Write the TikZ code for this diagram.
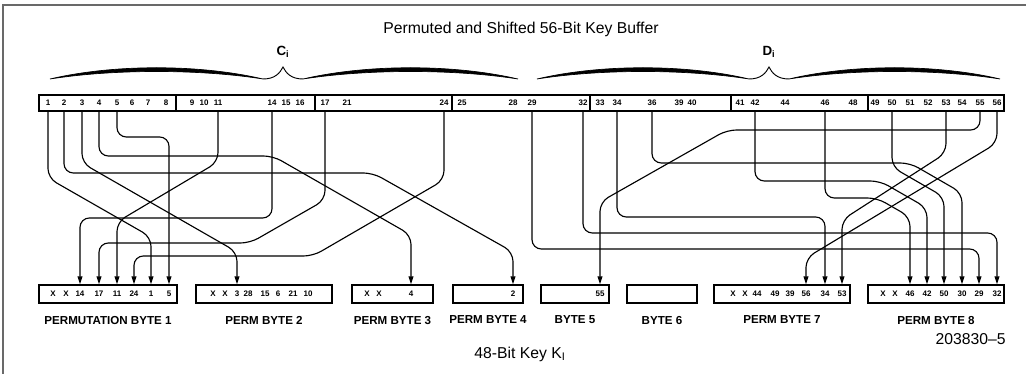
\documentclass[tikz,border=0pt]{standalone}
\usepackage{fontspec}
\setmainfont{Liberation Sans}
\usetikzlibrary{arrows.meta,positioning,fit}
\definecolor{framegray}{RGB}{105,105,105}
\tikzset{
  keybox/.style={draw,line width=1pt,inner sep=0pt},
  bitnum/.style={font=\bfseries\fontsize{6}{7}\selectfont,inner sep=0pt},
  bytelabel/.style={font=\bfseries\fontsize{8.7}{10}\selectfont,inner sep=0pt},
  halflabel/.style={font=\bfseries\fontsize{10}{12}\selectfont,inner sep=0pt},
  captext/.style={font=\fontsize{11.8}{14}\selectfont,inner sep=0pt},
  wire/.style={line width=0.85pt,rounded corners=7pt},
  feed/.style={wire,-{Triangle[length=6pt,width=3.6pt]}}
}
% calligraphic brace: left x, tip x, right x, base y
\newcommand{\keybrace}[4]{%
  \pgfmathsetmacro{\kbA}{#2-20}\pgfmathsetmacro{\kbB}{#2+20}%
  \pgfmathsetmacro{\kbP}{#1+0.3*(\kbA-#1)}\pgfmathsetmacro{\kbQ}{#1+0.7*(\kbA-#1)}%
  \pgfmathsetmacro{\kbR}{\kbB+0.3*(#3-\kbB)}\pgfmathsetmacro{\kbS}{\kbB+0.7*(#3-\kbB)}%
  \filldraw[line width=0.5pt] (#1,#4) .. controls (\kbP,#4-15) and (\kbQ,#4-15) .. (\kbA,#4)
    .. controls (\kbQ,#4-10) and (\kbP,#4-10) .. cycle;
  \filldraw[line width=0.5pt] (\kbB,#4) .. controls (\kbR,#4-15) and (\kbS,#4-15) .. (#3,#4)
    .. controls (\kbS,#4-10) and (\kbR,#4-10) .. cycle;
  \draw[line width=0.7pt] (\kbA,#4) .. controls (#2-8,#4) and (#2-3,#4-6) .. (#2,#4-12)
    .. controls (#2+3,#4-6) and (#2+8,#4) .. (\kbB,#4);
}

\begin{document}
\begin{tikzpicture}[x=0.75pt,y=-0.75pt]
\useasboundingbox (0,0) rectangle (1026,374);
\draw[framegray,line width=1.2pt] (3,374) -- (3,5) -- (1026,5);

% titles
\node[captext] (title) at (521,29) {Permuted and Shifted 56-Bit Key Buffer};
\node[halflabel] (ci) at (283,52) {C\textsubscript{i}};
\node[halflabel] (di) at (769,52) {D\textsubscript{i}};
\keybrace{50}{283}{518}{79}
\keybrace{537}{769}{1000}{79}

% 56-bit buffer
\node[keybox,fit={(39,95) (1004,111)}] (buf) {};
\foreach \x in {176,315,452,590,731,868} \draw[line width=1pt] (\x,95) -- (\x,111);
\foreach \n/\x in {1/48,2/64,3/82,4/99,5/117,6/132,7/148,8/166,9/192,10/204,11/218,
  14/272,15/286,16/300,17/325,21/347,24/444,25/462,28/513,29/532,32/583,33/600,34/617,
  36/652,39/679,40/692,41/740,42/755,44/785,46/825,48/853,49/875,50/892,51/910,52/928,
  53/946,54/962,55/980,56/997}
  \node[bitnum] (b\n) at (\x,103) {\n};

% output bytes
\foreach \i/\a/\b/\t in {1/39/177/PERMUTATION BYTE 1,2/196/332/PERM BYTE 2,
  3/352/433/PERM BYTE 3,4/453/523/PERM BYTE 4,5/541/609/BYTE 5,6/627/697/BYTE 6,
  7/714/850/PERM BYTE 7,8/868/1004/PERM BYTE 8}{
  \node[keybox,fit={(\a,285) (\b,303)}] (pb\i) {};
  \node[bytelabel,below=9pt of pb\i] (lb\i) {\t};
}
\foreach \n/\x in {14/80,17/99,11/117,24/134,1/151,5/169,3/237,28/248,15/265,6/278,
  21/293,10/308,4/411,2/513,55/600,44/757,49/775,39/790,56/806,34/825,53/842,
  46/910,42/927,50/944,30/962,29/979,32/997}
  \node[bitnum] (k\n) at (\x,294) {\n};
\foreach \i/\x in {1/53,2/66,3/213,4/225,5/367,6/379,7/733,8/745,9/883,10/895}
  \node[bitnum] (x\i) at (\x,294) {X};

% C half
\draw[feed] (b1 |- buf.south) -- (48,178) -- (151,237) -- (k1 |- pb1.north);
\draw[feed] (b2 |- buf.south) -- (64,173) -- (373,173) -- (513,252) -- (k2 |- pb4.north);
\draw[feed] (b3 |- buf.south) -- (82,163) -- (237,252) -- (k3 |- pb2.north);
\draw[feed] (b4 |- buf.south) -- (99,156) -- (273,156) -- (411,235) -- (k4 |- pb3.north);
\draw[feed] (b5 |- buf.south) -- (117,137) -- (169,137) -- (k5 |- pb1.north);
\draw[feed] (b11 |- buf.south) -- (218,162) -- (117,222) -- (k11 |- pb1.north);
\draw[feed] (b14 |- buf.south) -- (272,218) -- (80,218) -- (k14 |- pb1.north);
\draw[feed] (b17 |- buf.south) -- (325,200) -- (250,243) -- (99,243) -- (k17 |- pb1.north);
\draw[feed] (b24 |- buf.south) -- (444,180) -- (313,256) -- (134,256) -- (k24 |- pb1.north);
% D half
\draw[feed] (b29 |- buf.south) -- (532,249) -- (979,249) -- (k29 |- pb8.north);
\draw[feed] (b32 |- buf.south) -- (583,233) -- (997,233) -- (k32 |- pb8.north);
\draw[feed] (b34 |- buf.south) -- (617,217) -- (825,217) -- (k34 |- pb7.north);
\draw[feed] (b36 |- buf.south) -- (652,163) -- (910,163) -- (962,193) -- (k30 |- pb8.north);
\draw[feed] (b42 |- buf.south) -- (755,181) -- (880,181) -- (927,208) -- (k42 |- pb8.north);
\draw[feed] (b46 |- buf.south) -- (825,198) -- (877,198) -- (910,217) -- (k46 |- pb8.north);
\draw[feed] (b50 |- buf.south) -- (892,167) -- (944,197) -- (k50 |- pb8.north);
\draw[feed] (b53 |- buf.south) -- (946,153) -- (842,220) -- (k53 |- pb7.north);
\draw[feed] (b55 |- buf.south) -- (980,130) -- (727,130) -- (600,202) -- (k55 |- pb5.north);
\draw[feed] (b56 |- buf.south) -- (997,143) -- (806,258) -- (k56 |- pb7.north);

\node[captext,anchor=east] (fig) at (1006,339) {203830--5};
\node[captext] (cap) at (520,354) {48-Bit Key K\textsubscript{I}};
\end{tikzpicture}
\end{document}
